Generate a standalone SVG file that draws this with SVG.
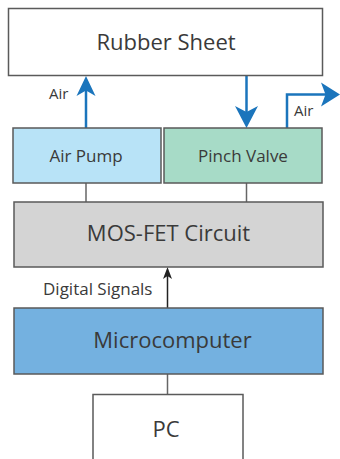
<svg xmlns="http://www.w3.org/2000/svg" width="340" height="459" viewBox="0 0 340 459">
<style>
.box{stroke:#5a5a5a;stroke-width:1.5}
.lbl{font-family:"Open Sans","Noto Sans","Liberation Sans",sans-serif;fill:#3a3a3a;text-anchor:middle}
.big{font-size:22px}
.mid{font-size:17px}
.sm{font-size:15px}
.wire{stroke:#666;stroke-width:1.5;fill:none}
.air{stroke:#1b75bc;stroke-width:2.5;fill:none}
.airhead{fill:#1b75bc}
</style>
<rect width="340" height="459" fill="#fff"/>
<g id="connectors">
  <line class="wire" x1="86" y1="183" x2="86" y2="202"/>
  <line class="wire" x1="246.5" y1="183" x2="246.5" y2="202"/>
  <line class="wire" x1="167.5" y1="374" x2="167.5" y2="394"/>
  <line x1="167.5" y1="308" x2="167.5" y2="276" stroke="#222" stroke-width="1.5"/>
  <path d="M167.5,267 L163,279 L167.5,276 L172,279 Z" fill="#222"/>
  <line class="air" x1="86" y1="128" x2="86" y2="90"/>
  <path class="airhead" d="M86,76 L76.5,96 L86,90.5 L95.5,96 Z"/>
  <line class="air" x1="246.5" y1="76" x2="246.5" y2="112"/>
  <path class="airhead" d="M246.5,128 L235,106 L246.5,112 L258,106 Z"/>
  <path class="air" d="M287,128 V94.5 H326"/>
  <path class="airhead" d="M340,94.5 L321,82.5 L325.5,94.5 L321,106.5 Z"/>
  <text class="lbl sm" x="49" y="99" style="text-anchor:start">Air</text>
  <text class="lbl sm" x="294" y="116" style="text-anchor:start">Air</text>
  <text class="lbl mid" x="43" y="295" style="text-anchor:start">Digital Signals</text>
</g>
<g id="rubber-sheet">
  <rect class="box" x="8.5" y="8.5" width="314" height="67" fill="#fff"/>
  <text class="lbl big" x="166" y="50">Rubber Sheet</text>
</g>
<g id="air-pump">
  <rect class="box" x="13" y="128" width="148" height="55" fill="#b8e3f7"/>
  <text class="lbl mid" x="86" y="162">Air Pump</text>
</g>
<g id="pinch-valve">
  <rect class="box" x="164" y="128" width="158" height="55" fill="#a7dbc7"/>
  <text class="lbl mid" x="243" y="162">Pinch Valve</text>
</g>
<g id="mosfet-circuit">
  <rect class="box" x="14" y="202" width="309" height="65" fill="#d4d4d4"/>
  <text class="lbl big" x="168.5" y="241">MOS-FET Circuit</text>
</g>
<g id="microcomputer">
  <rect class="box" x="14" y="308" width="309" height="66" fill="#74b1e0"/>
  <text class="lbl big" x="172.5" y="348">Microcomputer</text>
</g>
<g id="pc">
  <rect class="box" x="93" y="394.5" width="150" height="80" fill="#fff"/>
  <text class="lbl big" x="166" y="437">PC</text>
</g>
</svg>
